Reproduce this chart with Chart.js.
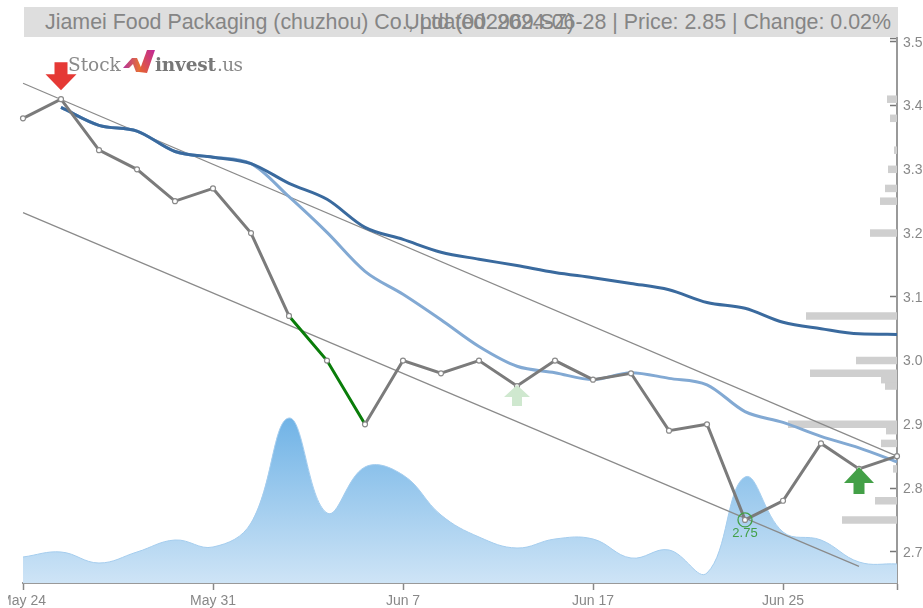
<!DOCTYPE html>
<html>
<head>
<meta charset="utf-8">
<title>Jiamei Food Packaging</title>
<script src="https://cdn.jsdelivr.net/npm/chart.js@4"></script>
<style>
    html, body { margin: 0; padding: 0; background: #fff; overflow: hidden; }
    body { width: 923px; height: 608px; position: relative; font-family: "Liberation Sans", sans-serif; }
    #chartStock { position: absolute; left: 8px; top: 0; }
    #band { position: absolute; left: 24px; top: 7px; width: 874px; height: 30px; background: #dedede; }
    .title { position: absolute; top: 9px; font-size: 21.4px; line-height: 27px; color: #858585; white-space: nowrap; }
    #logo { position: absolute; left: 0; top: 0; }
    .logo-text { position: absolute; top: 52px; line-height: 26px; color: #777; white-space: nowrap; font-family: "DejaVu Serif", serif; }
</style>
</head>
<body>
<canvas id="chartStock" width="915" height="608"></canvas>
<div id="band"></div>
<div class="title" style="left:45px">Jiamei Food Packaging (chuzhou) Co., Ltd (002969.SZ)</div>
<div class="title" style="right:32px">Updated: 2024-06-28 | Price: 2.85 | Change: 0.02%</div>
<span class="logo-text" style="left:68px;font-size:18.5px;color:#8a8a8a">Stock</span>
<svg id="logo" width="923" height="100">
    <defs>
        <linearGradient id="logoA" x1="0" y1="0" x2="1" y2="0">
            <stop offset="0" stop-color="#b5309b"/><stop offset="1" stop-color="#f08020"/>
        </linearGradient>
        <linearGradient id="logoB" x1="0" y1="1" x2="1" y2="0">
            <stop offset="0" stop-color="#e8652a"/><stop offset="1" stop-color="#c0279a"/>
        </linearGradient>
    </defs>
    <polygon points="123,68 132,58 137,58 143,72 136,72 133,64 129,68" fill="url(#logoA)"/>
    <polygon points="139,72 147,73 155,50 147,50" fill="url(#logoB)"/>
</svg>
<span class="logo-text" style="left:155px;font-size:18.5px;font-weight:bold;letter-spacing:-0.2px">invest</span>
<span class="logo-text" style="left:217px;font-size:18.5px;color:#8a8a8a;letter-spacing:-0.6px">.us</span>

<script>
var categories = ['May 24', 'May 27', 'May 28', 'May 29', 'May 30', 'May 31', 'Jun 3', 'Jun 4', 'Jun 5', 'Jun 6', 'Jun 7', 'Jun 11',
    'Jun 12', 'Jun 13', 'Jun 14', 'Jun 17', 'Jun 18', 'Jun 19', 'Jun 20', 'Jun 21', 'Jun 25', 'Jun 26', 'Jun 27', 'Jun 28'];
var priceValues = [3.38, 3.41, 3.33, 3.30, 3.25, 3.27, 3.20, 3.07, 3.00, 2.90, 3.00, 2.98,
    3.00, 2.96, 3.00, 2.97, 2.98, 2.89, 2.90, 2.75, 2.78, 2.87, 2.83, 2.85];
var maLong = [null, 3.397, 3.369, 3.36, 3.328, 3.319, 3.309, 3.278, 3.253, 3.209, 3.19, 3.17,
    3.159, 3.149, 3.138, 3.13, 3.121, 3.111, 3.091, 3.082, 3.06, 3.05, 3.042, 3.041];
var maShort = [null, 3.397, 3.369, 3.36, 3.328, 3.319, 3.309, 3.257, 3.201, 3.14, 3.104, 3.064,
    3.022, 2.991, 2.981, 2.97, 2.981, 2.972, 2.962, 2.92, 2.903, 2.881, 2.863, 2.841];
var volumeValues = [26, 31, 20, 31, 43, 36, 60, 165, 70, 116, 108, 68,
    46, 35, 44, 44, 25, 33, 10, 106, 51, 43, 21, 19];
var trendUpper = [3.435, null, null, null, null, null, null, null, null, null, null, null,
    null, null, null, null, null, null, null, null, null, null, null, 2.85];
var trendLower = [3.232, null, null, null, null, null, null, null, null, null, null, null,
    null, null, null, null, null, null, null, null, null, null, 2.677];
var profilePrices = [3.41, 3.38, 3.33, 3.30, 3.27, 3.25, 3.20, 3.07, 3.00, 2.98, 2.97, 2.96, 2.90, 2.89, 2.87, 2.83, 2.78, 2.75];
var profileVolumes = [10, 7, 3, 9, 12, 17, 27, 91, 41, 87, 16, 12, 109, 11, 16, 4, 22, 55];
var greenSegments = [7, 8];
var xTickLabels = ['May 24', 'May 31', 'Jun 7', 'Jun 17', 'Jun 25'];
var yTickValues = [2.7, 2.8, 2.9, 3.0, 3.1, 3.2, 3.3, 3.4, 3.5];
var sellSignals = [1];
var buySignals = [22];
var weakBuySignals = [13];
var lowIndex = 19;

var Y_MIN = 2.651, Y_MAX = 3.506;

function drawArrow(ctx, x, tipY, dir, w, headH, shaftW, totalH, color) {
    ctx.fillStyle = color;
    ctx.beginPath();
    ctx.moveTo(x, tipY);
    ctx.lineTo(x + w / 2, tipY + dir * headH);
    ctx.lineTo(x + shaftW / 2, tipY + dir * headH);
    ctx.lineTo(x + shaftW / 2, tipY + dir * totalH);
    ctx.lineTo(x - shaftW / 2, tipY + dir * totalH);
    ctx.lineTo(x - shaftW / 2, tipY + dir * headH);
    ctx.lineTo(x - w / 2, tipY + dir * headH);
    ctx.closePath();
    ctx.fill();
}

var signalPlugin = {
    id: 'signals',
    afterDatasetsDraw: function (chart) {
        var ctx = chart.ctx, xs = chart.scales.x, ys = chart.scales.y;
        ctx.save();
        weakBuySignals.forEach(function (i) {
            drawArrow(ctx, xs.getPixelForValue(i), ys.getPixelForValue(priceValues[i]) - 1, 1, 26, 12, 10, 21, '#cfe8cf');
        });
        sellSignals.forEach(function (i) {
            drawArrow(ctx, xs.getPixelForValue(i), ys.getPixelForValue(priceValues[i]) - 9, -1, 31, 16, 13, 28, '#e53935');
        });
        buySignals.forEach(function (i) {
            drawArrow(ctx, xs.getPixelForValue(i), ys.getPixelForValue(priceValues[i]) - 2, 1, 30, 16, 11, 27, '#43a047');
        });
        var lx = xs.getPixelForValue(lowIndex), ly = ys.getPixelForValue(priceValues[lowIndex]);
        ctx.strokeStyle = '#43a047';
        ctx.lineWidth = 1.3;
        ctx.beginPath();
        ctx.arc(lx, ly, 7, 0, Math.PI * 2);
        ctx.stroke();
        ctx.fillStyle = '#43a047';
        ctx.font = '13px "Liberation Sans"';
        ctx.textAlign = 'center';
        ctx.textBaseline = 'middle';
        ctx.fillText(priceValues[lowIndex].toFixed(2), lx, ly + 14);
        ctx.restore();
    },
};

new Chart(document.getElementById('chartStock').getContext('2d'), {
    type: 'line',
    plugins: [signalPlugin],
    data: {
        labels: categories,
        datasets: [
            {
                label: 'Price',
                data: priceValues,
                order: 1,
                borderColor: '#7b7b7b',
                borderWidth: 3,
                tension: 0,
                pointRadius: 2.5,
                pointBackgroundColor: '#fff',
                pointBorderColor: '#8a8a8a',
                pointBorderWidth: 1.2,
                segment: {
                    borderColor: function (c) { return greenSegments.indexOf(c.p0DataIndex) >= 0 ? '#0a7d0a' : undefined; },
                },
            },
            {
                label: 'MA long',
                data: maLong,
                order: 2,
                borderColor: '#3a6a9e',
                borderWidth: 3,
                pointRadius: 0,
                cubicInterpolationMode: 'monotone',
            },
            {
                label: 'MA short',
                data: maShort,
                order: 3,
                borderColor: '#82a9d3',
                borderWidth: 3,
                pointRadius: 0,
                cubicInterpolationMode: 'monotone',
            },
            {
                label: 'Trend upper',
                data: trendUpper,
                order: 4,
                spanGaps: true,
                borderColor: '#8a8a8a',
                borderWidth: 1.2,
                pointRadius: 0,
            },
            {
                label: 'Trend lower',
                data: trendLower,
                order: 5,
                spanGaps: true,
                borderColor: '#8a8a8a',
                borderWidth: 1.2,
                pointRadius: 0,
            },
            {
                type: 'bar',
                label: 'Volume at price',
                indexAxis: 'y',
                xAxisID: 'xProfile',
                yAxisID: 'y',
                data: profilePrices.map(function (p, i) { return { x: profileVolumes[i], y: p }; }),
                order: 6,
                backgroundColor: '#cfcfcf',
                // not grouped, or the bars sit off their price because of the second x axis
                grouped: false,
                categoryPercentage: 12,
                barPercentage: 1,
                maxBarThickness: 7.5,
            },
            {
                label: 'Volume',
                data: volumeValues,
                yAxisID: 'yVolume',
                order: 7,
                fill: 'origin',
                tension: 0.4,
                borderColor: '#a5cdee',
                borderWidth: 1,
                pointRadius: 0,
                backgroundColor: function (c) {
                    var area = c.chart.chartArea;
                    if (!area) return '#9cc9ec';
                    var g = c.chart.ctx.createLinearGradient(0, area.bottom - 165, 0, area.bottom);
                    g.addColorStop(0, '#70b3e6');
                    g.addColorStop(1, '#cee4f6');
                    return g;
                },
            },
        ],
    },
    options: {
        responsive: false,
        animation: false,
        events: [],
        layout: { autoPadding: false, padding: { left: 15, top: 38, right: 0, bottom: 0 } },
        plugins: {
            legend: { display: false },
            title: { display: false },
            tooltip: { enabled: false },
        },
        scales: {
            x: {
                type: 'category',
                offset: false,
                afterFit: function (axis) {
                    axis.height = 25;
                    axis.paddingLeft = 0;
                    axis.paddingRight = 0;
                },
                afterBuildTicks: function (axis) {
                    axis.ticks = axis.ticks.filter(function (t) {
                        return xTickLabels.indexOf(categories[t.value]) >= 0 || t.value === categories.length - 1;
                    });
                },
                border: { color: '#999', width: 2 },
                grid: { drawOnChartArea: false, tickLength: 7, tickColor: '#888', tickWidth: 1.5 },
                ticks: {
                    autoSkip: false,
                    maxRotation: 0,
                    padding: 3,
                    color: '#888',
                    font: { family: 'Liberation Sans', size: 14 },
                    callback: function (v) {
                        var label = this.getLabelForValue(v);
                        return xTickLabels.indexOf(label) >= 0 ? label : '';
                    },
                },
            },
            y: {
                type: 'linear',
                position: 'right',
                offset: false,
                min: Y_MIN,
                max: Y_MAX,
                afterFit: function (axis) { axis.width = 26; },
                afterBuildTicks: function (axis) {
                    axis.ticks = yTickValues.concat([Y_MAX]).map(function (v) { return { value: v }; });
                },
                border: { color: '#999', width: 2 },
                grid: { drawOnChartArea: false, offset: false, tickLength: -7, tickColor: '#777', tickWidth: 1.5 },
                ticks: {
                    padding: 13,
                    labelOffset: 1,
                    color: '#888',
                    font: { family: 'Liberation Sans', size: 14 },
                    callback: function (v) { return yTickValues.indexOf(v) >= 0 ? v.toFixed(1) : ''; },
                },
            },
            yVolume: { type: 'linear', display: false, min: 0, max: 545 },
            xProfile: { type: 'linear', display: false, reverse: true, min: 0, max: 874 },
        },
    },
});
</script>
</body>
</html>
